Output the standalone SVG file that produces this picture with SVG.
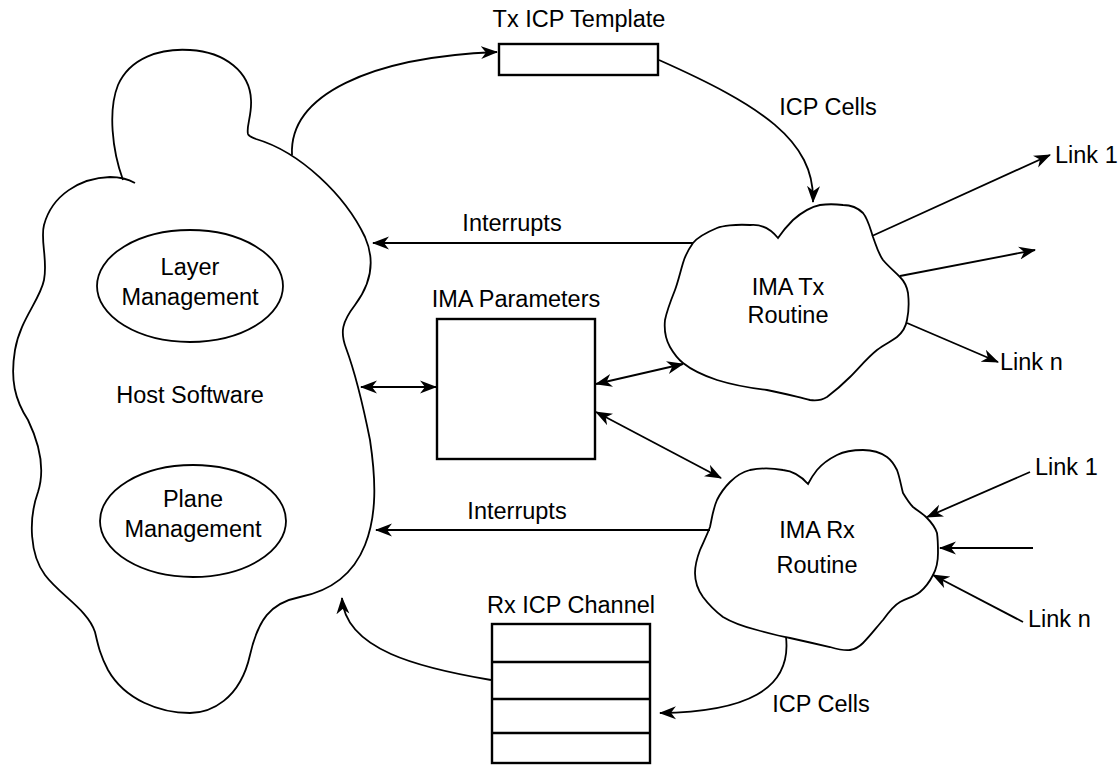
<svg xmlns="http://www.w3.org/2000/svg" width="1120" height="765" viewBox="0 0 1120 765">
<style>
.ln{fill:none;stroke:#000;stroke-width:1.8}
.bx{fill:#fff;stroke:#000;stroke-width:2.4}
.sh{fill:#fff;stroke:#000;stroke-width:1.8}
text{font-family:"Liberation Sans",Arial,Helvetica,sans-serif;font-size:23.5px;fill:#000}
.c{text-anchor:middle}
</style>
<defs>
<marker id="ah" markerUnits="userSpaceOnUse" markerWidth="18" markerHeight="14" refX="16" refY="6.5" orient="auto-start-reverse" viewBox="0 0 18 13">
<path d="M0,0 L17,6.5 L0,13 L5,6.5 z" fill="#000"/>
</marker>
</defs>
<rect width="1120" height="765" fill="#fff"/>

<g id="host">
<path class="sh" d="M123,180 C112,150 108,110 118,85 C130,58 160,48 190,50 C225,52 250,72 251,100 C252,115 246,127 248,134 C249,137 252,137 256,139 C300,152 345,195 365,237 C376,262 370,285 355,305 C342,322 340,332 346,348 C356,375 363,405 370,440 C376,480 377,515 365,545 C355,570 335,590 300,597 C270,603 258,620 250,655 C240,700 210,713 190,713 C160,713 125,700 108,670 C100,655 98,645 95,632 C88,610 60,595 45,575 C30,555 28,520 38,492 C45,470 40,445 28,420 C15,400 10,380 15,350 C20,320 40,300 44,280 C48,260 40,240 44,225 C52,195 80,178 110,177 C120,177 128,179 135,183"/>
<ellipse cx="190" cy="286" rx="93" ry="56" class="sh"/>
<text x="190" y="275" class="c">Layer</text>
<text x="190" y="305" class="c">Management</text>
<text x="190" y="403" class="c">Host Software</text>
<ellipse cx="193" cy="521" rx="93" ry="56" class="sh"/>
<text x="193" y="507" class="c">Plane</text>
<text x="193" y="537" class="c">Management</text>
</g>

<g id="tx-template">
<rect x="499" y="44" width="159" height="31" class="bx"/>
<text x="579" y="27" class="c">Tx ICP Template</text>
</g>

<g id="ima-params">
<rect x="437" y="319" width="158" height="140" class="bx"/>
<text x="516" y="307" class="c">IMA Parameters</text>
</g>

<g id="rx-channel">
<rect x="492" y="624" width="158" height="139" class="bx"/>
<line x1="492" y1="662" x2="650" y2="662" stroke="#000" stroke-width="2.4"/>
<line x1="492" y1="699" x2="650" y2="699" stroke="#000" stroke-width="2.4"/>
<line x1="492" y1="733" x2="650" y2="733" stroke="#000" stroke-width="2.4"/>
<text x="571" y="613" class="c">Rx ICP Channel</text>
</g>

<g id="ima-tx">
<path class="sh" d="M778,238 C770,228 760,224 750,225 C735,224 722,226 717,228 C705,233 697,238 693,243 C688,250 685,256 683,263 C680,273 678,282 675,290 C671,300 667,310 665,320 C664,330 666,340 670,347 C674,354 678,359 683,363 C693,371 705,376 717,380 C733,385 750,388 767,390 C783,393 797,397 810,400 C816,401 822,400 827,397 C835,391 843,384 850,377 C859,368 867,358 877,350 C885,344 892,341 897,337 C903,332 906,326 907,320 C909,311 909,302 908,293 C907,287 904,281 900,277 C894,271 888,266 883,260 C878,253 876,245 873,237 C870,228 868,219 863,213 C857,207 850,205 843,205 C835,204 827,204 820,205 C810,207 801,213 793,220 C787,226 782,232 778,238 Z"/>
<text x="788" y="295" class="c">IMA Tx</text>
<text x="788" y="323" class="c">Routine</text>
</g>

<g id="ima-rx">
<path class="sh" d="M808,484 C801,476 793,471 783,470 C772,468 760,468 750,470 C742,472 735,477 730,482 C724,488 720,494 717,500 C713,509 712,518 710,527 C707,535 703,543 700,550 C697,558 695,566 695,573 C695,582 698,590 703,597 C709,605 715,611 723,617 C733,623 745,627 757,630 C768,633 779,636 790,638 C803,641 817,644 830,647 C837,649 844,651 850,650 C856,649 860,646 863,643 C870,636 876,628 883,620 C888,613 893,606 900,602 C907,598 914,597 920,592 C926,587 930,581 933,575 C937,568 938,560 938,553 C938,546 938,540 937,533 C935,527 931,522 927,518 C923,514 918,511 913,507 C909,503 906,498 903,493 C901,486 900,478 897,470 C894,464 891,460 887,457 C880,452 872,450 863,450 C854,450 845,451 837,455 C829,459 822,464 817,470 C813,475 810,480 808,484 Z"/>
<text x="817" y="538" class="c">IMA Rx</text>
<text x="817" y="573" class="c">Routine</text>
</g>

<g id="connectors">
<path class="ln" d="M292,155 C289,95 370,57 497,52" marker-end="url(#ah)"/>
<path class="ln" d="M659,60 C760,105 815,140 813,202" marker-end="url(#ah)"/>
<path class="ln" d="M693,243 L373,243" marker-end="url(#ah)"/>
<path class="ln" d="M710,530 L376,530" marker-end="url(#ah)"/>
<path class="ln" d="M361,387 L436,387" marker-start="url(#ah)" marker-end="url(#ah)"/>
<path class="ln" d="M596,384 L683,364" marker-start="url(#ah)" marker-end="url(#ah)"/>
<path class="ln" d="M596,412 L721,478" marker-start="url(#ah)" marker-end="url(#ah)"/>
<path class="ln" d="M872,236 L1050,155" marker-end="url(#ah)"/>
<path class="ln" d="M900,276 L1035,250" marker-end="url(#ah)"/>
<path class="ln" d="M907,323 L998,362" marker-end="url(#ah)"/>
<path class="ln" d="M1030,472 L927,517" marker-end="url(#ah)"/>
<path class="ln" d="M1033,548 L940,548" marker-end="url(#ah)"/>
<path class="ln" d="M1023,622 L933,575" marker-end="url(#ah)"/>
<path class="ln" d="M786,637 C792,690 745,712 660,713" marker-end="url(#ah)"/>
<path class="ln" d="M491,680 C420,668 345,650 342,598" marker-end="url(#ah)"/>
<text x="512" y="231" class="c">Interrupts</text>
<text x="517" y="519" class="c">Interrupts</text>
<text x="828" y="115" class="c">ICP Cells</text>
<text x="821" y="712" class="c">ICP Cells</text>
<text x="1055" y="163">Link 1</text>
<text x="1000" y="370">Link n</text>
<text x="1035" y="475">Link 1</text>
<text x="1028" y="627">Link n</text>
</g>
</svg>
